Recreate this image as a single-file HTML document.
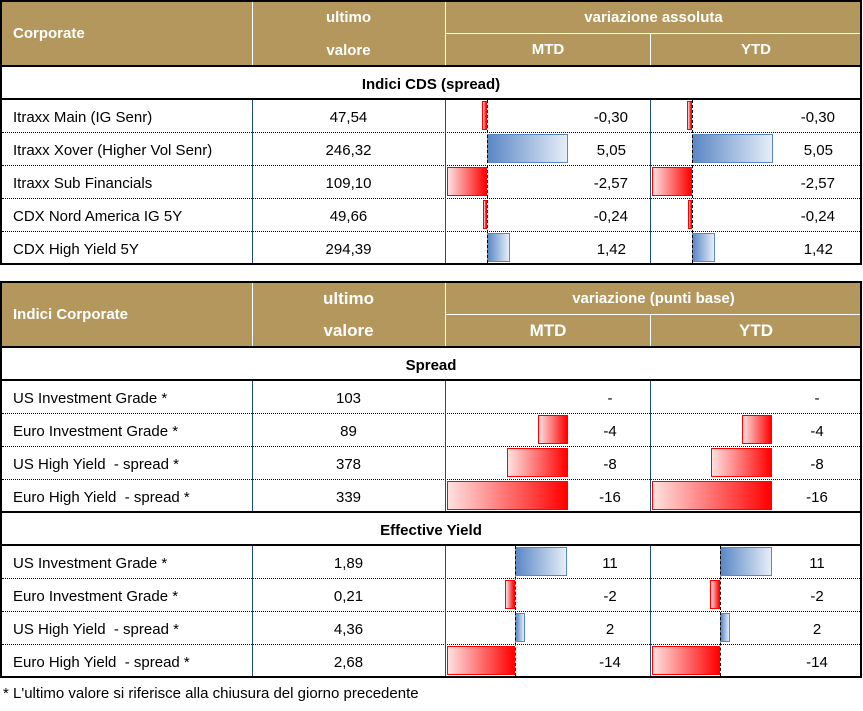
<!DOCTYPE html>
<html><head><meta charset="utf-8"><style>
*{margin:0;padding:0;box-sizing:border-box}
body{width:863px;height:711px;background:#fff;position:relative;font-family:"Liberation Sans",sans-serif;color:#000;overflow:hidden}
div{position:absolute}
.hd{background:#b4975c}
.wt{color:#fff;font-weight:bold;font-size:15px;text-align:center;line-height:1}
.t{font-size:15px;line-height:33px;white-space:nowrap;padding-top:2px}
.c{text-align:center}
.r{text-align:right}
.hl{height:0;border-top:1px dotted #000}
.vl{width:0;border-left:1px solid #1f4e79}
.ax{width:0;border-left:1px dashed #000}
.bk{background:#000}
.red{background:linear-gradient(to right,#ffe0e0,#ff0000);border:1px solid #ff0000}
.blu{background:linear-gradient(to right,#5b87c5,#e6eef8);border:1px solid #5b87c5}
</style></head><body>
<!-- TABLE 1 -->
<div class="hd" style="left:1px;top:1px;width:860px;height:65px"></div>
<div style="left:252px;top:1px;width:1px;height:65px;background:#fff"></div>
<div style="left:445px;top:1px;width:1px;height:65px;background:#fff"></div>
<div style="left:446px;top:33px;width:415px;height:1px;background:#fff"></div>
<div style="left:650px;top:34px;width:1px;height:32px;background:#fff"></div>
<div class="wt" style="left:13px;top:26px;font-size:15px">Corporate</div>
<div class="wt" style="left:252px;top:10px;width:193px">ultimo</div>
<div class="wt" style="left:252px;top:43px;width:193px">valore</div>
<div class="wt" style="left:446px;top:10px;width:415px">variazione assoluta</div>
<div class="wt" style="left:446px;top:42px;width:204px">MTD</div>
<div class="wt" style="left:651px;top:42px;width:210px">YTD</div>
<div class="t c" style="left:0;top:66px;width:862px;font-weight:bold">Indici CDS (spread)</div>
<div class="bk" style="left:0;top:0;width:862px;height:2px"></div>
<div class="bk" style="left:0;top:65px;width:862px;height:2px"></div>
<div class="bk" style="left:0;top:98px;width:862px;height:2px"></div>
<div class="bk" style="left:0;top:263px;width:862px;height:2px"></div>
<div class="bk" style="left:0;top:0;width:2px;height:265px"></div>
<div class="bk" style="left:860px;top:0;width:2px;height:265px"></div>
<div class="hl" style="left:2px;top:132px;width:858px"></div>
<div class="hl" style="left:2px;top:165px;width:858px"></div>
<div class="hl" style="left:2px;top:198px;width:858px"></div>
<div class="hl" style="left:2px;top:231px;width:858px"></div>
<div class="vl" style="left:252px;top:100px;height:163px"></div>
<div class="vl" style="left:445px;top:100px;height:163px"></div>
<div class="vl" style="left:650px;top:100px;height:163px"></div>
<!-- bars t1 -->
<div class="red" style="left:482px;top:101px;width:5px;height:29px"></div>
<div class="blu" style="left:487px;top:134px;width:81px;height:29px"></div>
<div class="red" style="left:447px;top:167px;width:40px;height:29px"></div>
<div class="red" style="left:483px;top:200px;width:4px;height:29px"></div>
<div class="blu" style="left:487px;top:233px;width:23px;height:29px"></div>
<div class="red" style="left:687px;top:101px;width:5px;height:29px"></div>
<div class="blu" style="left:692px;top:134px;width:81px;height:29px"></div>
<div class="red" style="left:652px;top:167px;width:40px;height:29px"></div>
<div class="red" style="left:688px;top:200px;width:4px;height:29px"></div>
<div class="blu" style="left:692px;top:233px;width:23px;height:29px"></div>
<div class="ax" style="left:487px;top:100px;height:163px"></div>
<div class="ax" style="left:692px;top:100px;height:163px"></div>
<div class="t" style="left:13px;top:99px">Itraxx Main (IG Senr)</div>
<div class="t" style="left:13px;top:132px">Itraxx Xover (Higher Vol Senr)</div>
<div class="t" style="left:13px;top:165px">Itraxx Sub Financials</div>
<div class="t" style="left:13px;top:198px">CDX Nord America IG 5Y</div>
<div class="t" style="left:13px;top:231px">CDX High Yield 5Y</div>
<div class="t c" style="left:252px;top:99px;width:193px">47,54</div>
<div class="t c" style="left:252px;top:132px;width:193px">246,32</div>
<div class="t c" style="left:252px;top:165px;width:193px">109,10</div>
<div class="t c" style="left:252px;top:198px;width:193px">49,66</div>
<div class="t c" style="left:252px;top:231px;width:193px">294,39</div>
<div class="t r" style="left:560px;top:99px;width:68px">-0,30</div>
<div class="t r" style="left:560px;top:132px;width:66px">5,05</div>
<div class="t r" style="left:560px;top:165px;width:68px">-2,57</div>
<div class="t r" style="left:560px;top:198px;width:68px">-0,24</div>
<div class="t r" style="left:560px;top:231px;width:66px">1,42</div>
<div class="t r" style="left:765px;top:99px;width:70px">-0,30</div>
<div class="t r" style="left:765px;top:132px;width:68px">5,05</div>
<div class="t r" style="left:765px;top:165px;width:70px">-2,57</div>
<div class="t r" style="left:765px;top:198px;width:70px">-0,24</div>
<div class="t r" style="left:765px;top:231px;width:68px">1,42</div>

<!-- TABLE 2 -->
<div class="hd" style="left:1px;top:282px;width:860px;height:65px"></div>
<div style="left:252px;top:282px;width:1px;height:65px;background:#fff"></div>
<div style="left:445px;top:282px;width:1px;height:65px;background:#fff"></div>
<div style="left:446px;top:314px;width:415px;height:1px;background:#fff"></div>
<div style="left:650px;top:315px;width:1px;height:32px;background:#fff"></div>
<div class="wt" style="left:13px;top:307px">Indici Corporate</div>
<div class="wt" style="left:252px;top:290px;width:193px;font-size:17px">ultimo</div>
<div class="wt" style="left:252px;top:322px;width:193px;font-size:17px">valore</div>
<div class="wt" style="left:446px;top:291px;width:415px">variazione (punti base)</div>
<div class="wt" style="left:446px;top:322px;width:204px;font-size:17px">MTD</div>
<div class="wt" style="left:651px;top:322px;width:210px;font-size:17px">YTD</div>
<div class="t c" style="left:0;top:347px;width:862px;font-weight:bold">Spread</div>
<div class="t c" style="left:0;top:512px;width:862px;font-weight:bold">Effective Yield</div>
<div class="bk" style="left:0;top:281px;width:862px;height:2px"></div>
<div class="bk" style="left:0;top:346px;width:862px;height:2px"></div>
<div class="bk" style="left:0;top:379px;width:862px;height:2px"></div>
<div class="bk" style="left:0;top:511px;width:862px;height:2px"></div>
<div class="bk" style="left:0;top:544px;width:862px;height:2px"></div>
<div class="bk" style="left:0;top:676px;width:862px;height:2px"></div>
<div class="bk" style="left:0;top:281px;width:2px;height:397px"></div>
<div class="bk" style="left:860px;top:281px;width:2px;height:397px"></div>
<div class="hl" style="left:2px;top:413px;width:858px"></div>
<div class="hl" style="left:2px;top:446px;width:858px"></div>
<div class="hl" style="left:2px;top:479px;width:858px"></div>
<div class="hl" style="left:2px;top:578px;width:858px"></div>
<div class="hl" style="left:2px;top:611px;width:858px"></div>
<div class="hl" style="left:2px;top:644px;width:858px"></div>
<div class="vl" style="left:252px;top:381px;height:130px"></div>
<div class="vl" style="left:445px;top:381px;height:130px"></div>
<div class="vl" style="left:650px;top:381px;height:130px"></div>
<div class="vl" style="left:252px;top:546px;height:130px"></div>
<div class="vl" style="left:445px;top:546px;height:130px"></div>
<div class="vl" style="left:650px;top:546px;height:130px"></div>
<!-- bars spread -->
<div class="red" style="left:538px;top:415px;width:30px;height:29px"></div>
<div class="red" style="left:507px;top:448px;width:61px;height:29px"></div>
<div class="red" style="left:447px;top:481px;width:121px;height:29px"></div>
<div class="red" style="left:742px;top:415px;width:30px;height:29px"></div>
<div class="red" style="left:711px;top:448px;width:61px;height:29px"></div>
<div class="red" style="left:652px;top:481px;width:120px;height:29px"></div>
<!-- bars yield -->
<div class="blu" style="left:515px;top:547px;width:52px;height:29px"></div>
<div class="red" style="left:505px;top:580px;width:10px;height:29px"></div>
<div class="blu" style="left:515px;top:613px;width:10px;height:29px"></div>
<div class="red" style="left:447px;top:646px;width:68px;height:29px"></div>
<div class="blu" style="left:720px;top:547px;width:52px;height:29px"></div>
<div class="red" style="left:710px;top:580px;width:10px;height:29px"></div>
<div class="blu" style="left:720px;top:613px;width:10px;height:29px"></div>
<div class="red" style="left:652px;top:646px;width:68px;height:29px"></div>
<div class="ax" style="left:515px;top:546px;height:130px"></div>
<div class="ax" style="left:720px;top:546px;height:130px"></div>
<div class="t" style="left:13px;top:380px">US Investment Grade *</div>
<div class="t" style="left:13px;top:413px">Euro Investment Grade *</div>
<div class="t" style="left:13px;top:446px">US High Yield&nbsp; - spread *</div>
<div class="t" style="left:13px;top:479px">Euro High Yield&nbsp; - spread *</div>
<div class="t" style="left:13px;top:545px">US Investment Grade *</div>
<div class="t" style="left:13px;top:578px">Euro Investment Grade *</div>
<div class="t" style="left:13px;top:611px">US High Yield&nbsp; - spread *</div>
<div class="t" style="left:13px;top:644px">Euro High Yield&nbsp; - spread *</div>
<div class="t c" style="left:252px;top:380px;width:193px">103</div>
<div class="t c" style="left:252px;top:413px;width:193px">89</div>
<div class="t c" style="left:252px;top:446px;width:193px">378</div>
<div class="t c" style="left:252px;top:479px;width:193px">339</div>
<div class="t c" style="left:252px;top:545px;width:193px">1,89</div>
<div class="t c" style="left:252px;top:578px;width:193px">0,21</div>
<div class="t c" style="left:252px;top:611px;width:193px">4,36</div>
<div class="t c" style="left:252px;top:644px;width:193px">2,68</div>
<div class="t c" style="left:595px;top:380px;width:30px">-</div>
<div class="t c" style="left:595px;top:413px;width:30px">-4</div>
<div class="t c" style="left:595px;top:446px;width:30px">-8</div>
<div class="t c" style="left:595px;top:479px;width:30px">-16</div>
<div class="t c" style="left:595px;top:545px;width:30px">11</div>
<div class="t c" style="left:595px;top:578px;width:30px">-2</div>
<div class="t c" style="left:595px;top:611px;width:30px">2</div>
<div class="t c" style="left:595px;top:644px;width:30px">-14</div>
<div class="t c" style="left:802px;top:380px;width:30px">-</div>
<div class="t c" style="left:802px;top:413px;width:30px">-4</div>
<div class="t c" style="left:802px;top:446px;width:30px">-8</div>
<div class="t c" style="left:802px;top:479px;width:30px">-16</div>
<div class="t c" style="left:802px;top:545px;width:30px">11</div>
<div class="t c" style="left:802px;top:578px;width:30px">-2</div>
<div class="t c" style="left:802px;top:611px;width:30px">2</div>
<div class="t c" style="left:802px;top:644px;width:30px">-14</div>
<div class="t" style="left:3px;top:675px">* L'ultimo valore si riferisce alla chiusura del giorno precedente</div>
</body></html>
